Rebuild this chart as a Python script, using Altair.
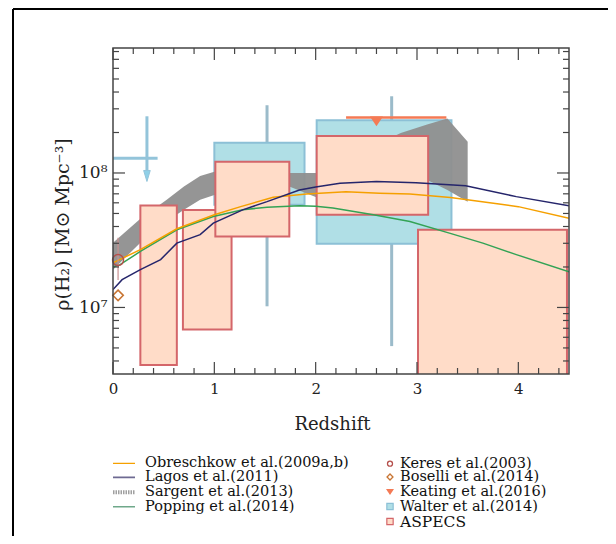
import altair as alt
import pandas as pd

# ---------------- data ----------------
# Obreschkow et al. (2009a,b)
obr_z = [0, 0.27, 0.63, 1.0, 1.26, 1.58, 1.91, 2.3, 2.63, 2.93, 3.33, 3.81, 4.0, 4.5]
obr_v = [2.15e7, 2.69e7, 3.85e7, 4.89e7, 5.62e7, 6.61e7, 6.98e7, 7.26e7, 7.08e7,
         6.98e7, 6.56e7, 5.89e7, 5.62e7, 4.61e7]
# Lagos et al. (2011)
lag_z = [0, 0.09, 0.27, 0.47, 0.63, 0.86, 0.99, 1.28, 1.52, 1.84, 2.0, 2.24, 2.6,
         2.99, 3.48, 3.98, 4.5]
lag_v = [1.36e7, 1.61e7, 1.91e7, 2.27e7, 3.01e7, 3.48e7, 4.24e7, 5.32e7, 6.12e7,
         7.48e7, 7.87e7, 8.39e7, 8.63e7, 8.47e7, 8.02e7, 6.67e7, 5.70e7]
# Popping et al. (2014)
pop_z = [0, 0.07, 0.27, 0.63, 0.99, 1.28, 1.52, 1.84, 2.0, 2.17, 2.57, 2.93, 3.32,
         3.65, 3.98, 4.5]
pop_v = [2.0e7, 2.08e7, 2.61e7, 3.78e7, 4.74e7, 5.32e7, 5.57e7, 5.70e7, 5.65e7,
         5.48e7, 4.89e7, 4.36e7, 3.57e7, 3.01e7, 2.47e7, 1.84e7]
# Sargent et al. (2013) band
sar_z = [0, 0.27, 0.53, 0.7, 0.86, 1.0, 1.74, 1.9, 2.0, 2.84, 3.1, 3.3, 3.5]
sar_hi = [3.03e7, 4.57e7, 6.31e7, 7.93e7, 9.51e7, 1.02e8, 1.0e8, 1.0e8, 1.0e8,
          1.98e8, 2.29e8, 2.54e8, 1.71e8]
sar_lo = [1.91e7, 3.03e7, 4.36e7, 5.32e7, 6.31e7, 6.87e7, 7.93e7, 7.11e7, 6.64e7,
          8.51e7, 8.87e7, 7.48e7, 6.12e7]
# ASPECS boxes
asp_z1 = [0.27, 0.69, 1.01, 2.01, 3.01]
asp_z2 = [0.63, 1.17, 1.74, 3.11, 4.48]
asp_lo = [3.74e6, 6.87e6, 3.37e7, 4.89e7, 1.0e6]
asp_hi = [5.73e7, 5.3e7, 1.21e8, 1.88e8, 3.78e7]
# Walter et al. (2014) boxes, error bars and upper limit
wal_z1 = [1.0, 2.01]
wal_z2 = [1.89, 3.34]
wal_lo = [5.8e7, 2.98e7]
wal_hi = [1.68e8, 2.47e8]
wal_ez = [1.52, 2.75]
wal_elo = [1.02e7, 5.16e6]
wal_ehi = [3.19e8, 3.72e8]
wal_ul_z1 = [0.0]
wal_ul_z2 = [0.44]
wal_ul_v = [1.285e8]
wal_ul_zc = [0.335]
wal_ul_top = [2.64e8]
wal_ul_bot = [1.0e8]
wal_ul_tip = [9.5e7]
# Keating et al. (2016)
kea_z1 = [2.3]
kea_z2 = [3.29]
kea_v = [2.59e8]
kea_zc = [2.6]
# Keres et al. (2003)
ker_z = [0.05]
ker_v = [2.25e7]
ker_lo = [1.6e7]
ker_hi = [3.3e7]
# Boselli et al. (2014)
bos_z = [0.05]
bos_v = [1.23e7]
# axis ticks
xt_major = [0, 1, 2, 3, 4]
xt_minor = [0.2, 0.4, 0.6, 0.8, 1.2, 1.4, 1.6, 1.8, 2.2, 2.4, 2.6, 2.8,
            3.2, 3.4, 3.6, 3.8, 4.2, 4.4]
yt_major = [1e7, 1e8]
yt_minor = [4e6, 5e6, 6e6, 7e6, 8e6, 9e6, 2e7, 3e7, 4e7, 5e7, 6e7, 7e7, 8e7, 9e7,
            2e8, 3e8, 4e8, 5e8, 6e8, 7e8, 8e8]

# ---------------- styling ----------------
FONT = "DejaVu Serif"
W, H = 456, 326
C_OBR = "#F5A000"
C_LAG = "#25256B"
C_POP = "#33A355"
C_SAR = "#8F8F8F"
C_WAL_FILL = "#B0DFE6"
C_WAL_STROKE = "#8CC0D6"
C_WAL_ERR = "#9BBBCA"
C_WAL_UL = "#93C4DA"
C_ASP_FILL = "#FFDCC8"
C_ASP_STROKE = "#D4666A"
C_KEA = "#F47A55"
C_KER = "#B5504C"
C_BOS = "#C87533"
C_AX = "#444444"

xs = alt.Scale(domain=[0, 4.5], nice=False, zero=False)
ys = alt.Scale(type="log", domain=[3.2e6, 8.5e8], nice=False)

xaxis = alt.Axis(values=xt_major, format="d", domain=False, ticks=False, grid=False,
                 labelFlush=False, labelFont=FONT, labelFontSize=15, labelPadding=7,
                 labelColor="#222",
                 title="Redshift", titleFont=FONT, titleFontSize=18,
                 titleFontWeight="normal", titleColor="#222", titleX=219, titleY=50,
                 titleBaseline="middle")
yaxis = alt.Axis(values=yt_major, labelExpr="datum.value < 5e7 ? '10⁷' : '10⁸'",
                 domain=False, ticks=False, grid=False, labelFlush=False,
                 labelFont=FONT, labelFontSize=17, labelPadding=6, labelColor="#222",
                 title="ρ(H₂)  [M⊙ Mpc⁻³]", titleFont=FONT, titleFontSize=19,
                 titleFontWeight="normal", titleColor="#222", titleX=-51, titleY=176,
                 titleAngle=270, titleBaseline="middle", titleAlign="center")


def X(f):
    return alt.X(f, type="quantitative", scale=xs, axis=xaxis)


def Y(f):
    return alt.Y(f, type="quantitative", scale=ys, axis=yaxis)


def line_layer(z, v, color):
    df = pd.DataFrame({"z": z, "v": v})
    return alt.Chart(df).mark_line(color=color, strokeWidth=1.5, clip=True).encode(
        x=X("z"), y=Y("v"))


layers = []

# Walter error bars (behind boxes)
layers.append(alt.Chart(pd.DataFrame({"z": wal_ez, "lo": wal_elo, "hi": wal_ehi}))
              .mark_rule(color=C_WAL_ERR, strokeWidth=3, clip=True)
              .encode(x=X("z"), y=Y("lo"), y2="hi"))
# Walter upper limit
layers.append(alt.Chart(pd.DataFrame({"z1": wal_ul_z1, "z2": wal_ul_z2, "v": wal_ul_v}))
              .mark_rule(color=C_WAL_UL, strokeWidth=3, clip=True)
              .encode(x=X("z1"), x2="z2", y=Y("v")))
layers.append(alt.Chart(pd.DataFrame({"z": wal_ul_zc, "lo": wal_ul_bot, "hi": wal_ul_top}))
              .mark_rule(color=C_WAL_UL, strokeWidth=3, clip=True)
              .encode(x=X("z"), y=Y("lo"), y2="hi"))
layers.append(alt.Chart(pd.DataFrame({"z": wal_ul_zc, "v": wal_ul_tip}))
              .mark_point(shape="M-0.6,-1L0.6,-1L0,1Z", size=121, filled=True,
                          fill="#8FD0E8", stroke=C_WAL_UL, strokeWidth=1, opacity=1)
              .encode(x=X("z"), y=Y("v")))
# Walter boxes
layers.append(alt.Chart(pd.DataFrame({"z1": wal_z1, "z2": wal_z2, "lo": wal_lo, "hi": wal_hi}))
              .mark_rect(fill=C_WAL_FILL, stroke=C_WAL_STROKE, strokeWidth=2, clip=True)
              .encode(x=X("z1"), x2="z2", y=Y("lo"), y2="hi"))
# Sargent band
layers.append(alt.Chart(pd.DataFrame({"z": sar_z, "lo": sar_lo, "hi": sar_hi}))
              .mark_area(color=C_SAR, opacity=0.95, clip=True)
              .encode(x=X("z"), y=Y("lo"), y2="hi"))
# ASPECS boxes
layers.append(alt.Chart(pd.DataFrame({"z1": asp_z1, "z2": asp_z2, "lo": asp_lo, "hi": asp_hi}))
              .mark_rect(fill=C_ASP_FILL, stroke=C_ASP_STROKE, strokeWidth=2, clip=True)
              .encode(x=X("z1"), x2="z2", y=Y("lo"), y2="hi"))
# model lines
layers.append(line_layer(pop_z, pop_v, C_POP))
layers.append(line_layer(obr_z, obr_v, C_OBR))
layers.append(line_layer(lag_z, lag_v, C_LAG))
# Keating
layers.append(alt.Chart(pd.DataFrame({"z1": kea_z1, "z2": kea_z2, "v": kea_v}))
              .mark_rule(color=C_KEA, strokeWidth=2.5, clip=True)
              .encode(x=X("z1"), x2="z2", y=Y("v")))
layers.append(alt.Chart(pd.DataFrame({"z": kea_zc, "v": kea_v}))
              .mark_point(shape="M-1,-0.75L1,-0.75L0,0.75Z", size=169, filled=True,
                          color=C_KEA, opacity=1, yOffset=4)
              .encode(x=X("z"), y=Y("v")))
# Keres
layers.append(alt.Chart(pd.DataFrame({"z": ker_z, "lo": ker_lo, "hi": ker_hi}))
              .mark_rule(color="#C99090", strokeWidth=1.2, clip=True)
              .encode(x=X("z"), y=Y("lo"), y2="hi"))
layers.append(alt.Chart(pd.DataFrame({"z": ker_z, "v": ker_v}))
              .mark_point(shape="circle", size=120, filled=False, color=C_KER,
                          strokeWidth=1.5, opacity=1)
              .encode(x=X("z"), y=Y("v")))
# Boselli
layers.append(alt.Chart(pd.DataFrame({"z": bos_z, "v": bos_v}))
              .mark_point(shape="diamond", size=110, filled=False, color=C_BOS,
                          strokeWidth=1.5, opacity=1)
              .encode(x=X("z"), y=Y("v")))

# inward ticks on all four sides
for vals, ln in ((xt_major, 12), (xt_minor, 6)):
    d = pd.DataFrame({"t": vals})
    layers.append(alt.Chart(d).mark_rule(color=C_AX, strokeWidth=1.2)
                  .encode(x=X("t"), y=alt.value(H), y2=alt.value(H - ln)))
    layers.append(alt.Chart(d).mark_rule(color=C_AX, strokeWidth=1.2)
                  .encode(x=X("t"), y=alt.value(0), y2=alt.value(ln)))
for vals, ln in ((yt_major, 12), (yt_minor, 6)):
    d = pd.DataFrame({"t": vals})
    layers.append(alt.Chart(d).mark_rule(color=C_AX, strokeWidth=1.2)
                  .encode(y=Y("t"), x=alt.value(0), x2=alt.value(ln)))
    layers.append(alt.Chart(d).mark_rule(color=C_AX, strokeWidth=1.2)
                  .encode(y=Y("t"), x=alt.value(W), x2=alt.value(W - ln)))

one = pd.DataFrame({"a": [0]})
# plot frame
layers.append(alt.Chart(one).mark_rect(fillOpacity=0, stroke=C_AX, strokeWidth=1.5)
              .encode(x=alt.value(0), x2=alt.value(W), y=alt.value(0), y2=alt.value(H)))

# ---------------- legend ----------------
LFS = 14.5
left_entries = [
    ("Obreschkow et al.(2009a,b)", C_OBR, 1.3, [1, 0]),
    ("Lagos et al.(2011)", "#6E6A92", 1.8, [1, 0]),
    ("Sargent et al.(2013)", "#A0A0A0", 4, [1.5, 1]),
    ("Popping et al.(2014)", "#6FA88A", 1.5, [1, 0]),
]
left_rows = [415.3, 429.3, 444.3, 458.7]
for (lab, col, sw, dash), ry in zip(left_entries, left_rows):
    d = pd.DataFrame({"label": [lab]})
    layers.append(alt.Chart(d).mark_rule(color=col, strokeWidth=sw, strokeDash=dash)
                  .encode(x=alt.value(0), x2=alt.value(22), y=alt.value(ry)))
    layers.append(alt.Chart(d).mark_text(align="left", baseline="middle", font=FONT,
                                         fontSize=LFS, color="#111")
                  .encode(x=alt.value(32), y=alt.value(ry), text="label:N"))

right_rows = [415.7, 429.0, 444.0, 458.5, 473.5]
right_labels = ["Keres et al.(2003)", "Boselli et al.(2014)", "Keating et al.(2016)",
                "Walter et al.(2014)", "ASPECS"]
sym_x = 277
layers.append(alt.Chart(one).mark_point(shape="circle", size=25, filled=False,
                                        color=C_KER, strokeWidth=1.3, opacity=1)
              .encode(x=alt.value(sym_x), y=alt.value(right_rows[0])))
layers.append(alt.Chart(one).mark_point(shape="diamond", size=35, filled=False,
                                        color=C_BOS, strokeWidth=1.3, opacity=1)
              .encode(x=alt.value(sym_x), y=alt.value(right_rows[1])))
layers.append(alt.Chart(one).mark_point(shape="M-1,-0.75L1,-0.75L0,0.75Z", size=64,
                                        filled=True, color=C_KEA, opacity=1)
              .encode(x=alt.value(sym_x), y=alt.value(right_rows[2])))
layers.append(alt.Chart(one).mark_point(shape="square", size=40, filled=True,
                                        fill=C_WAL_FILL, stroke=C_WAL_STROKE,
                                        strokeWidth=1.2, opacity=1)
              .encode(x=alt.value(sym_x), y=alt.value(right_rows[3])))
layers.append(alt.Chart(one).mark_point(shape="square", size=40, filled=True,
                                        fill=C_ASP_FILL, stroke=C_ASP_STROKE,
                                        strokeWidth=1.2, opacity=1)
              .encode(x=alt.value(sym_x), y=alt.value(right_rows[4])))
for i, (lab, ry) in enumerate(zip(right_labels, right_rows)):
    d = pd.DataFrame({"label": [lab]})
    layers.append(alt.Chart(d).mark_text(align="left", baseline="middle", font=FONT,
                                         fontSize=15.5 if i == 4 else LFS, color="#111")
                  .encode(x=alt.value(287), y=alt.value(ry), text="label:N"))

# outer figure frame (top and left edges; the rest runs off the page)
layers.append(alt.Chart(one).mark_rule(color="black", strokeWidth=2)
              .encode(x=alt.value(-100), x2=alt.value(900), y=alt.value(-39)))
layers.append(alt.Chart(one).mark_rule(color="black", strokeWidth=2)
              .encode(x=alt.value(-100), y=alt.value(-39), y2=alt.value(900)))

chart = alt.layer(*layers).properties(
    width=W, height=H,
    autosize=alt.AutoSizeParams(type="none"),
    padding={"left": 105, "top": 40, "right": 39, "bottom": 162},
    background="white",
).configure_view(stroke="transparent")

chart.save("out.html", embed_options={"renderer": "svg", "actions": False})
